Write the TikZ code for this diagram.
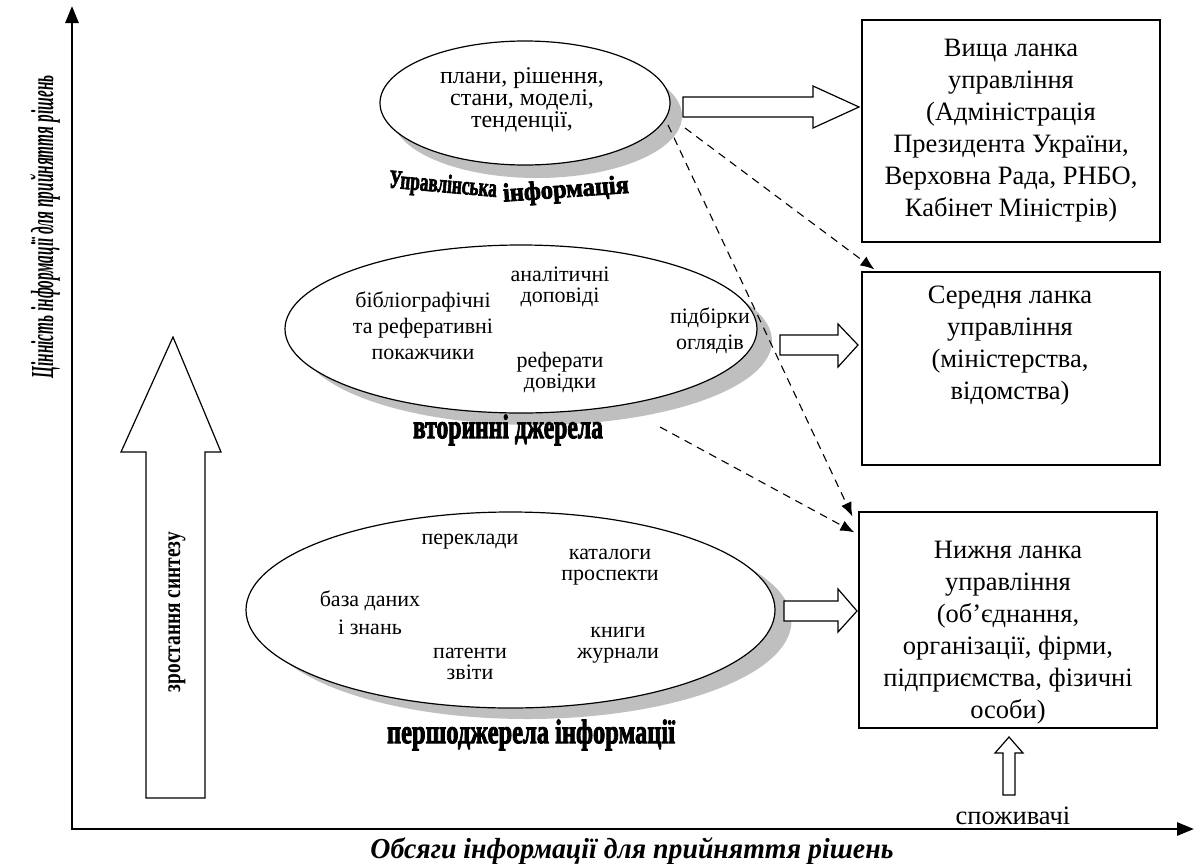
\documentclass[tikz,border=0pt]{standalone}
\usepackage{fontspec}
\setmainfont{Liberation Serif}
\newfontfamily\heavyfont{Liberation Serif}[BoldFeatures={FakeBold=3}]
\usetikzlibrary{shapes.geometric,arrows.meta,calc}
\tikzset{
  ell/.style={ellipse, draw, line width=1.2pt, fill=white, inner sep=0pt},
  shad/.style={ellipse, fill=gray!50, inner sep=0pt},
  boxnode/.style={draw, line width=1.2pt, inner sep=0pt, minimum width=298pt},
  boxtxt/.style={align=center, inner sep=0pt, font=\fontsize{26.5}{32}\selectfont},
  etxt/.style={align=center, inner sep=0pt, font=\fontsize{22}{21}\selectfont},
  etxtw/.style={align=center, inner sep=0pt, font=\fontsize{22}{26}\selectfont},
  blockarrow/.style={draw, line width=1.2pt, fill=white, line join=miter},
  dasharrow/.style={line width=1.1pt, dash pattern=on 8pt off 6pt, -{Latex[length=14pt,width=11pt]}},
  axisline/.style={line width=2.8pt, -{Triangle[length=17pt,width=13pt]}},
  plain/.style={inner sep=0pt}
}
\begin{document}
\begin{tikzpicture}[x=1pt,y=-1pt]
\fill[white] (0,0) rectangle (1195,863);
\useasboundingbox (0,0) rectangle (1195,863);

% axes
\coordinate (o) at (72,830);
\coordinate (ytop) at (72,6);
\coordinate (xo) at (70.6,829);
\coordinate (xend) at (1194,829);
\draw[axisline] (o) -- (ytop);
\draw[axisline] (xo) -- (xend);

\node[plain, rotate=90] (ylab) at (45,227)
  {\resizebox{303pt}{\height}{\bfseries\itshape\fontsize{32}{32}\selectfont Цінність інформації для прийняття рішень}};
\node[plain] (xlab) at (632,851)
  {\resizebox{523pt}{\height}{\bfseries\itshape\fontsize{29}{29}\selectfont Обсяги інформації для прийняття рішень}};

% big synthesis arrow
\draw[blockarrow] (146,798) -- (146,452) -- (121,452) -- (173,337) -- (221,452) -- (205,452) -- (205,798) -- cycle;
\node[plain, rotate=90] (synt) at (177,612)
  {\resizebox{160pt}{\height}{\bfseries\fontsize{25}{25}\selectfont зростання синтезу}};

% shadows
\node[shad, minimum width=290pt, minimum height=124pt] (tes) at (537,116) {};
\node[shad, minimum width=472pt, minimum height=168pt] (mes) at (536,341) {};
\node[shad, minimum width=529pt, minimum height=196pt] (bes) at (527,621) {};

% ellipses
\node[ell, minimum width=290pt, minimum height=124pt] (te) at (525,103) {};
\node[ell, minimum width=472pt, minimum height=168pt] (me) at (521,329) {};
\node[ell, minimum width=529pt, minimum height=196pt] (be) at (510.5,610) {};

% top ellipse text
\node[align=center, inner sep=0pt, font=\fontsize{24}{22}\selectfont] (t1) at (522,100)
  {плани, рішення,\\стани, моделі,\\тенденції,};
\node[plain, rotate=-5] (tl1) at (443,186)
  {\resizebox{108pt}{\height}{\heavyfont\bfseries\fontsize{26}{26}\selectfont Управлінська}};
\node[plain, rotate=4] (tl2) at (566,191)
  {\resizebox{126pt}{\height}{\heavyfont\bfseries\fontsize{26}{26}\selectfont інформація}};

% middle ellipse text
\node[etxtw] (m1) at (423,326) {бібліографічні\\та реферативні\\покажчики};
\node[etxt] (m2) at (560,287) {аналітичні\\доповіді};
\node[etxt] (m3) at (560,372) {реферати\\довідки};
\node[etxtw] (m4) at (710,331) {підбірки\\оглядів};
\node[plain] (ml) at (508,430)
  {\resizebox{190pt}{\height}{\heavyfont\bfseries\fontsize{34}{34}\selectfont вторинні джерела}};

% bottom ellipse text
\node[etxt] (p1) at (470,542) {переклади};
\node[etxt] (p2) at (610,567) {каталоги\\проспекти};
\node[align=center, inner sep=0pt, font=\fontsize{22}{28}\selectfont] (p3) at (370,613) {база даних\\і знань};
\node[etxt] (p4) at (470,664) {патенти\\звіти};
\node[etxt] (p5) at (618,645) {книги\\журнали};
\node[plain] (bl) at (531,735)
  {\resizebox{288pt}{\height}{\heavyfont\bfseries\fontsize{34}{34}\selectfont першоджерела інформації}};

% boxes
\node[boxnode, minimum height=222pt] (b1) at (1011,131) {};
\node[boxnode, minimum height=193pt] (b2) at (1011,368.5) {};
\node[boxnode, minimum height=216pt] (b3) at (1008,620) {};
\node[boxtxt] (b1t) at (1011,131)
  {Вища ланка\\управління\\(Адміністрація\\Президента України,\\Верховна Рада, РНБО,\\Кабінет Міністрів)};
\node[boxtxt] (b2t) at (1010,346)
  {Середня ланка\\управління\\(міністерства,\\відомства)};
\node[boxtxt] (b3t) at (1008,633)
  {Нижня ланка\\управління\\(об’єднання,\\організації, фірми,\\підприємства, фізичні\\особи)};

% block arrows to boxes
\draw[blockarrow] (683,97) -- (813,97) -- (813,86) -- (859,107) -- (813,128) -- (813,117) -- (683,117) -- cycle;
\draw[blockarrow] (780,335) -- (838,335) -- (838,324) -- (858,345) -- (838,367) -- (838,355) -- (780,355) -- cycle;
\draw[blockarrow] (784,601) -- (838,601) -- (838,589) -- (857,611) -- (838,632) -- (838,621) -- (784,621) -- cycle;

% consumers
\draw[blockarrow] (1003,795) -- (1003,753) -- (995,753) -- (1009,737) -- (1023,753) -- (1015,753) -- (1015,795) -- cycle;
\node[plain, font=\fontsize{26.5}{26.5}\selectfont] (cons) at (1013,816) {споживачі};

% dashed connectors
\coordinate (da) at (685,128);
\coordinate (db) at (668,125);
\coordinate (dc) at (660,427);
\draw[dasharrow] (da) -- ($(b2.north west)+(13,-2)$);
\draw[dasharrow] (db) -- ($(b3.north west)+(-6,5)$);
\draw[dasharrow] (dc) -- ($(b3.north west)+(-4,21)$);
\end{tikzpicture}
\end{document}
